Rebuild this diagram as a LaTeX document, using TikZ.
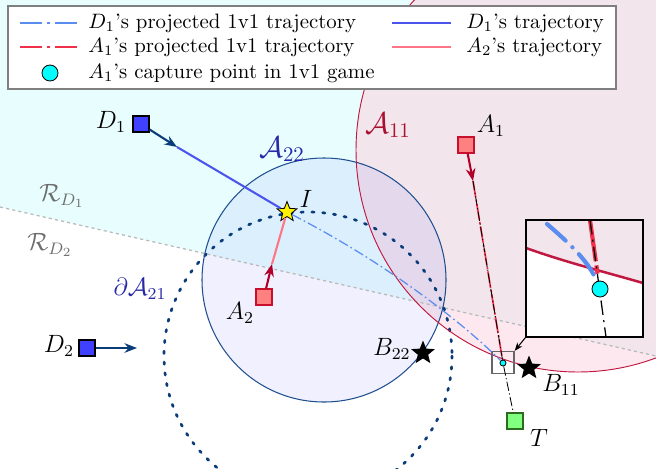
\documentclass[tikz,border=0pt]{standalone}
\usetikzlibrary{shapes.geometric,arrows.meta,positioning}

\definecolor{rdbg}{HTML}{E8FEFE}
\definecolor{aopink}{HTML}{FCE8EE}
\definecolor{aomauve}{HTML}{F2E6EC}
\definecolor{aqblue}{HTML}{5A5AF0}
\definecolor{defblue}{HTML}{4040FF}
\definecolor{navyarr}{HTML}{0A3C7A}
\definecolor{deftraj}{HTML}{4B55EE}
\definecolor{projblue}{HTML}{5B8DEF}
\definecolor{attfill}{HTML}{FF8080}
\definecolor{attdraw}{HTML}{C8102E}
\definecolor{redarr}{HTML}{B0002A}
\definecolor{atttraj}{HTML}{FF7585}
\definecolor{projred}{HTML}{F0304A}
\definecolor{circred}{HTML}{C01840}
\definecolor{circblue}{HTML}{1F4E8F}
\definecolor{lblblue}{HTML}{2828A8}
\definecolor{lblred}{HTML}{A8102E}
\definecolor{lblgray}{HTML}{6E6E6E}
\definecolor{tgtfill}{HTML}{80FF80}
\definecolor{tgtdraw}{HTML}{2E6B1E}
\definecolor{capcyan}{HTML}{00FFFF}
\definecolor{legframe}{HTML}{7F7F7F}

\begin{document}
\begin{tikzpicture}[
  x=0.48pt,
  y=-0.48pt,
  agentsq/.style={rectangle,minimum size=7.7pt,inner sep=0pt,line width=.6pt},
  defsq/.style={agentsq,draw=black,fill=defblue},
  attsq/.style={agentsq,draw=attdraw,fill=attfill},
  tgtsq/.style={agentsq,draw=tgtdraw,fill=tgtfill},
  agentlbl/.style={font=\large,inner sep=0pt},
  regionlbl/.style={font=\Large,inner sep=0pt},
  istar/.style={star,star points=5,star point ratio=2.3,inner sep=0pt,
    minimum size=10pt,fill=yellow,draw=black,line width=.4pt},
  bstar/.style={star,star points=5,star point ratio=2.3,inner sep=0pt,
    minimum size=12pt,fill=black},
  capdot/.style={circle,draw=black,line width=.4pt,fill=capcyan,inner sep=0pt,
    minimum size=#1},
  headarr/.style={line width=1pt,-{Stealth[length=6pt,width=4.6pt]}},
  sepline/.style={gray!55,line width=.6pt,dash pattern=on 1.5pt off 1.5pt},
  dotbnd/.style={navyarr,line width=1.3pt,line cap=round,
    dash pattern=on 1.1pt off 4.1pt},
  projb/.style={projblue,line width=.6pt,
    dash pattern=on 4.8pt off 1.5pt on .8pt off 1.5pt},
  projr/.style={projred,line width=.8pt,
    dash pattern=on 8pt off 1pt on 1pt off 1pt},
  blkdd/.style={black,line width=.4pt,
    dash pattern=on 4.5pt off 1.2pt on .6pt off 1.2pt},
  legtxt/.style={anchor=west,inner sep=0pt}
]
\useasboundingbox (0,0) rectangle (656,468);

% regions R_D1 / R_D2 and the sets A11, A22, dA21
\begin{scope}
  \clip (0,0) rectangle (656,468);
  \fill[rdbg] (0,0) -- (656,0) -- (656,356) -- (0,207) -- cycle;
  \fill[aopink] (578,150) circle[radius=222];
  \begin{scope}
    \clip (0,0) -- (656,0) -- (656,356) -- (0,207) -- cycle;
    \fill[aomauve] (578,150) circle[radius=222];
  \end{scope}
  \fill[aqblue,fill opacity=.09] (324,280) circle[radius=122];
  \draw[sepline] (0,207) -- (656,356);
  \draw[dotbnd] (308,356) circle[radius=144];
  \draw[circblue,line width=.5pt] (324,280) circle[radius=122];
  \draw[circred,line width=.45pt] (578,150) circle[radius=222];
\end{scope}

\node[regionlbl,text=lblblue] (A22l) at (282,149) {$\mathcal{A}_{22}$};
\node[regionlbl,text=lblred] (A11l) at (388,125) {$\mathcal{A}_{11}$};
\node[agentlbl,text=lblblue] (dA21l) at (140,289) {$\partial\mathcal{A}_{21}$};
\node[agentlbl,text=lblgray] (RD1l) at (62,196) {$\mathcal{R}_{D_1}$};
\node[agentlbl,text=lblgray] (RD2l) at (50,245) {$\mathcal{R}_{D_2}$};

% players
\node[defsq] (D1) at (141,124) {};
\node[defsq] (D2) at (87,348) {};
\node[attsq] (A1) at (466,145) {};
\node[attsq] (A2) at (264,297) {};
\node[tgtsq] (T) at (515,421) {};
\node[istar] (I) at (287,212) {};
\node[capdot=2.9pt] (C) at (503,363) {};
\node[bstar] (B22) at (423,353) {};
\node[bstar] (B11) at (529,368) {};
\node[rectangle,draw=black!60,line width=.55pt,minimum size=10.6pt,inner sep=0pt]
  (Z) at (503,362.5) {};

\node[agentlbl] (D1l) at (111,122) {$D_1$};
\node[agentlbl] (D2l) at (59,346) {$D_2$};
\node[agentlbl] (A1l) at (491,126) {$A_1$};
\node[agentlbl] (A2l) at (240,313) {$A_2$};
\node[agentlbl] (Tl) at (539,438) {$T$};
\node[agentlbl] (Il) at (306,199) {$I$};
\node[agentlbl,anchor=east] (B22l) at (411,349) {$B_{22}$};
\node[agentlbl] (B11l) at (561,385) {$B_{11}$};

% headings and trajectories
\coordinate (D1h) at (177,147);
\coordinate (D2h) at (137,348);
\coordinate (A1h) at (473,181);
\coordinate (A2h) at (272,264);
\draw[deftraj,line width=1pt] (D1h) -- (I);
\draw[atttraj,line width=1pt] (A2h) -- (I);
\draw[projb] (I) .. controls (390,265) and (465,325) .. (C);
\draw[projr] (A1h) -- (C);
\draw[blkdd] (A1h) -- (C);
\draw[blkdd] (C) -- (T);
\draw[headarr,navyarr] (D1) -- (D1h);
\draw[headarr,navyarr] (D2) -- (D2h);
\draw[headarr,redarr] (A1) -- (A1h);
\draw[headarr,redarr] (A2) -- (A2h);

% zoomed view of the capture point
\begin{scope}
  \clip (526,220) rectangle (643,337);
  \fill[white] (526,220) rectangle (643,337);
  \fill[aomauve] (526,220) -- (526,248) .. controls (565,262) and (605,272)
    .. (643,283) -- (643,220) -- cycle;
  \draw[circred,line width=1.2pt] (526,248) .. controls (565,262) and (605,272)
    .. (643,283);
  \draw[projblue,line width=2pt,line cap=round,
    dash pattern=on 12pt off 4.5pt on .1pt off 4.5pt]
    (547,224) .. controls (568,242) and (590,262) .. (598,284);
  \draw[projred,line width=2pt,dash pattern=on 20pt off 2pt on 4pt off 20pt]
    (590,220) -- (598,277);
  \draw[black,line width=.6pt,dash pattern=on 7pt off 2.5pt on 1pt off 2.5pt]
    (590,220) -- (606,337);
\end{scope}
\node[capdot=7.7pt] (Cz) at (600,289) {};
\node[rectangle,draw=black,line width=.6pt,minimum width=56.2pt,
  minimum height=56.2pt,inner sep=0pt] (Ins) at (584.5,278.5) {};
\draw[line width=.5pt,-{Stealth[length=4pt,width=3pt]}] (Ins.south west) -- (Z.north east);

% legend
\node[rectangle,draw=legframe,line width=.8pt,fill=white,inner sep=0pt,
  minimum width=291.8pt,minimum height=39.8pt] (leg) at (312,47.5) {};
\draw[projblue,line width=1.3pt,dash pattern=on 10.5pt off 2.4pt on 1.5pt off 2.4pt]
  (20,23) -- (80,23);
\draw[projred,line width=1.3pt,dash pattern=on 10.5pt off 2.4pt on 1.5pt off 2.4pt]
  (20,47) -- (80,47);
\node[capdot=7.7pt] (legC) at (50,73) {};
\draw[deftraj,line width=1.4pt] (392,23) -- (451,23);
\draw[atttraj,line width=1.4pt] (392,47) -- (451,47);
\node[legtxt] (leg1) at (88,23) {$D_1$'s projected 1v1 trajectory};
\node[legtxt] (leg2) at (88,47) {$A_1$'s projected 1v1 trajectory};
\node[legtxt] (leg3) at (88,73) {$A_1$'s capture point in 1v1 game};
\node[legtxt] (leg4) at (466,23) {$D_1$'s trajectory};
\node[legtxt] (leg5) at (466,47) {$A_2$'s trajectory};
\end{tikzpicture}
\end{document}
